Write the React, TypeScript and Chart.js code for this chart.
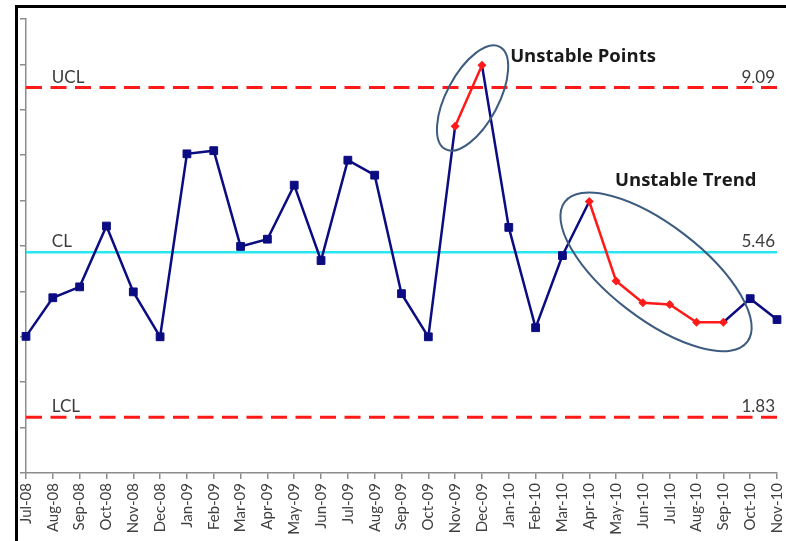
import React, { useEffect, useRef } from "react";
import { Chart, registerables } from "chart.js";

Chart.register(...registerables);

const months = [
  "Jul-08", "Aug-08", "Sep-08", "Oct-08", "Nov-08", "Dec-08",
  "Jan-09", "Feb-09", "Mar-09", "Apr-09", "May-09", "Jun-09",
  "Jul-09", "Aug-09", "Sep-09", "Oct-09", "Nov-09", "Dec-09",
  "Jan-10", "Feb-10", "Mar-10", "Apr-10", "May-10", "Jun-10",
  "Jul-10", "Aug-10", "Sep-10", "Oct-10", "Nov-10",
];

const values = [
  3.61, 4.46, 4.70, 6.04, 4.59, 3.60,
  7.63, 7.70, 5.59, 5.75, 6.94, 5.28,
  7.49, 7.16, 4.55, 3.60, 8.24, 9.58,
  6.01, 3.80, 5.39, 6.58, 4.83, 4.35,
  4.31, 3.92, 3.92, 4.44, 3.98,
];

// 1 = flagged unstable (drawn red)
const unstable = [
  0, 0, 0, 0, 0, 0,
  0, 0, 0, 0, 0, 0,
  0, 0, 0, 0, 1, 1,
  0, 0, 0, 1, 1, 1,
  1, 1, 1, 0, 0,
];

const UCL = 9.09;
const CL = 5.46;
const LCL = 1.83;

const yMin = 0.6;
const yMax = 10.6;
const yStep = 1;

// annotation anchors in data units (category index, value)
const ellipses = [
  { cx: 16.65, cy: 8.86, rx: 58, ry: 26, angle: -62 },
  { cx: 23.49, cy: 5.03, rx: 115, ry: 47, angle: 37.5 },
];
const notes = [
  { text: "Unstable Points", x: 18.05, y: 9.66 },
  { text: "Unstable Trend", x: 21.96, y: 6.93 },
];

const NAVY = "#0c0c82";
const RED = "#ff1a1a";
const FONT = "Lato, 'Open Sans', sans-serif";
const NOTE_FONT = "'Open Sans', Lato, sans-serif";

const overlay = {
  id: "controlOverlay",
  beforeDatasetsDraw(chart: any) {
    const { ctx, chartArea, scales } = chart;
    const y = scales.y;
    const x = scales.x;
    const lines = [
      { v: UCL, name: "UCL", color: RED, dash: [16, 8.5], w: 3 },
      { v: CL, name: "CL", color: "#28e6f2", dash: [], w: 2.5 },
      { v: LCL, name: "LCL", color: RED, dash: [16, 8.5], w: 3 },
    ];
    ctx.save();
    for (const l of lines) {
      const py = y.getPixelForValue(l.v);
      ctx.beginPath();
      ctx.setLineDash(l.dash);
      ctx.lineWidth = l.w;
      ctx.strokeStyle = l.color;
      ctx.moveTo(chartArea.left, py);
      ctx.lineTo(chartArea.right, py);
      ctx.stroke();
      ctx.setLineDash([]);
      ctx.fillStyle = "#3c3c3c";
      ctx.font = `17px ${FONT}`;
      ctx.textBaseline = "alphabetic";
      ctx.textAlign = "left";
      ctx.fillText(l.name, x.getPixelForValue(1) - 1, py - 5);
      ctx.textAlign = "right";
      ctx.fillText(l.v.toFixed(2), chartArea.right - 2, py - 5);
    }
    ctx.restore();
  },
  afterDatasetsDraw(chart: any) {
    const { ctx, scales } = chart;
    const x = scales.x;
    const y = scales.y;
    ctx.save();
    ctx.strokeStyle = "#3d5c80";
    ctx.lineWidth = 2;
    for (const e of ellipses) {
      ctx.beginPath();
      ctx.ellipse(
        x.getPixelForValue(e.cx),
        y.getPixelForValue(e.cy),
        e.rx,
        e.ry,
        (e.angle * Math.PI) / 180,
        0,
        Math.PI * 2
      );
      ctx.stroke();
    }
    ctx.fillStyle = "#1a1a1a";
    ctx.font = `bold 18.5px ${NOTE_FONT}`;
    ctx.textAlign = "left";
    ctx.textBaseline = "alphabetic";
    for (const n of notes) {
      ctx.fillText(n.text, x.getPixelForValue(n.x), y.getPixelForValue(n.y));
    }
    ctx.restore();
  },
};

export default function App() {
  const ref = useRef<HTMLCanvasElement>(null);

  useEffect(() => {
    const isRed = (i: number) => unstable[i] === 1;
    const redData = values.map((v, i) => (isRed(i) ? v : null));
    const chart = new Chart(ref.current as HTMLCanvasElement, {
      type: "line",
      data: {
        labels: months,
        datasets: [
          {
            label: "Unstable",
            data: redData,
            borderColor: RED,
            backgroundColor: RED,
            borderWidth: 2.5,
            pointStyle: "rectRot",
            pointRadius: 4.5,
            pointBorderWidth: 0,
            spanGaps: false,
            tension: 0,
          },
          {
            label: "Value",
            data: values,
            borderColor: NAVY,
            backgroundColor: NAVY,
            borderWidth: 2.5,
            pointStyle: "rect",
            pointRadius: values.map((_, i) => (isRed(i) ? 0 : 5.5)),
            pointBorderWidth: 1,
            pointBorderColor: NAVY,
            tension: 0,
            segment: {
              borderColor: (c: any) =>
                isRed(c.p0DataIndex) && isRed(c.p1DataIndex) ? "rgba(0,0,0,0)" : NAVY,
            },
          },
        ],
      },
      options: {
        animation: false,
        responsive: false,
        maintainAspectRatio: false,
        layout: { padding: { top: 19, right: 0, left: 0, bottom: 0 } },
        plugins: {
          legend: { display: false },
          tooltip: { enabled: false },
        },
        scales: {
          x: {
            type: "category",
            offset: false,
            grid: {
              display: true,
              drawOnChartArea: false,
              drawTicks: true,
              tickLength: 6,
              color: "#8c8c8c",
              lineWidth: 1.5,
              offset: false,
            },
            border: { display: true, color: "#8c8c8c", width: 1.5 },
            ticks: {
              autoSkip: false,
              minRotation: 90,
              maxRotation: 90,
              padding: 4,
              color: "#404040",
              font: { family: FONT, size: 15 },
            },
            afterFit: (s: any) => {
              s.height = 68;
            },
          },
          y: {
            min: yMin,
            max: yMax,
            grid: {
              display: true,
              drawOnChartArea: false,
              drawTicks: true,
              tickLength: 6,
              color: "#8c8c8c",
              lineWidth: 1.5,
            },
            border: { display: true, color: "#8c8c8c", width: 1.5 },
            ticks: { display: false },
            afterBuildTicks: (s: any) => {
              const t = [];
              for (let v = yMin; v <= yMax + 1e-9; v += yStep) t.push({ value: v });
              s.ticks = t;
            },
            afterFit: (s: any) => {
              s.width = 26;
            },
          },
        },
      },
      plugins: [overlay],
    });
    return () => chart.destroy();
  }, []);

  return (
    <div
      style={{
        position: "fixed",
        left: 0,
        top: 0,
        width: 786,
        height: 541,
        background: "#fff",
        overflow: "hidden",
      }}
    >
      <canvas ref={ref} width={799} height={541} style={{ position: "absolute", left: 0, top: 0 }} />
      <div
        style={{
          position: "absolute",
          left: 15,
          top: 5,
          width: 900,
          height: 700,
          borderTop: "3px solid #000",
          borderLeft: "3px solid #000",
          pointerEvents: "none",
        }}
      />
    </div>
  );
}
